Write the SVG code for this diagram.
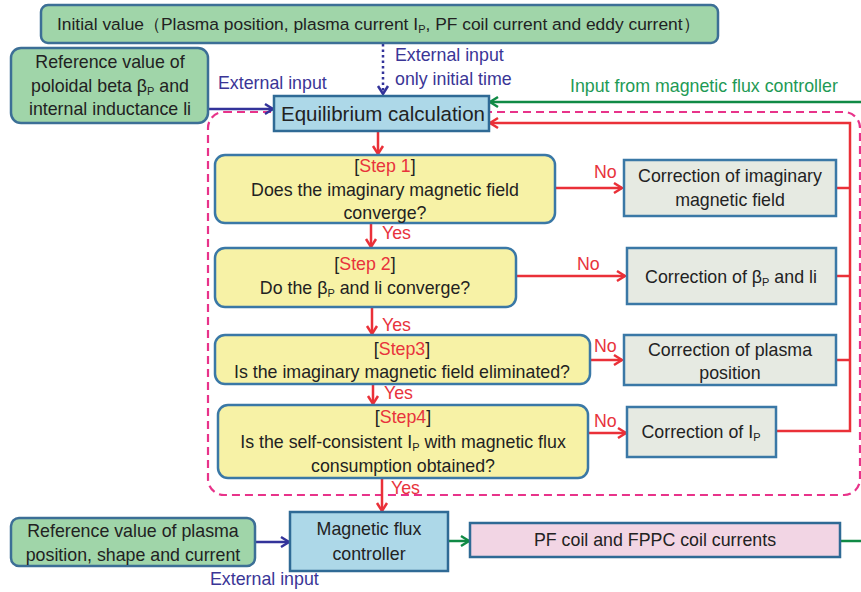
<svg xmlns="http://www.w3.org/2000/svg" width="861" height="592" viewBox="0 0 861 592">
<defs>
<style>
text{font-family:"Liberation Sans",Arial,sans-serif;font-size:17.8px;fill:#222;}
.c{text-anchor:middle;}
.blue{fill:#3a3596;}
.green{fill:#1e9a55;}
.red{fill:#e8333c;}
.sub{font-size:11px;}
.gbox{fill:#a0d5a9;stroke:#3c6f96;stroke-width:2.5;}
.bbox{fill:#add8e8;stroke:#2f6a95;stroke-width:2.5;}
.ybox{fill:#f7f2a6;stroke:#3a78a6;stroke-width:2.5;}
.cbox{fill:#e6eae2;stroke:#3a78a6;stroke-width:2.5;}
.pbox{fill:#f2d5e4;stroke:#2f6a95;stroke-width:2.5;}
.lr{fill:none;stroke:#ea3038;stroke-width:2.5;}
.lb{fill:none;stroke:#33339a;stroke-width:2.5;}
.lg{fill:none;stroke:#108a45;stroke-width:2.5;}
</style>
<marker id="ar" markerUnits="userSpaceOnUse" markerWidth="14" markerHeight="14" refX="11" refY="7" orient="auto"><path d="M3,2 L11,7 L3,12" fill="none" stroke="#ea3038" stroke-width="2.5"/></marker>
<marker id="ab" markerUnits="userSpaceOnUse" markerWidth="14" markerHeight="14" refX="11" refY="7" orient="auto"><path d="M3,2 L11,7 L3,12" fill="none" stroke="#33339a" stroke-width="2.5"/></marker>
<marker id="ag" markerUnits="userSpaceOnUse" markerWidth="14" markerHeight="14" refX="11" refY="7" orient="auto"><path d="M3,2 L11,7 L3,12" fill="none" stroke="#108a45" stroke-width="2.5"/></marker>
</defs>
<rect width="861" height="592" fill="#fff"/>

<g id="loop-region">
<rect x="208" y="112" width="652" height="383" rx="16" fill="none" stroke="#e8338a" stroke-width="2.2" stroke-dasharray="8,5"/>
</g>

<g id="connectors">
<line class="lb" x1="383" y1="44" x2="383" y2="94" stroke-dasharray="2.5,3" marker-end="url(#ab)"/>
<line class="lb" x1="209" y1="109" x2="273" y2="109" marker-end="url(#ab)"/>
<line class="lg" x1="861" y1="102" x2="490" y2="102" marker-end="url(#ag)"/>
<polyline class="lr" points="776,431 850,431 850,123 490,123" marker-end="url(#ar)"/>
<line class="lr" x1="836" y1="188" x2="850" y2="188"/>
<line class="lr" x1="836" y1="276" x2="850" y2="276"/>
<line class="lr" x1="836" y1="360" x2="850" y2="360"/>
<line class="lr" x1="378" y1="132" x2="378" y2="154" marker-end="url(#ar)"/>
<line class="lr" x1="556" y1="188" x2="622" y2="188" marker-end="url(#ar)"/>
<line class="lr" x1="371" y1="224" x2="371" y2="247" marker-end="url(#ar)"/>
<line class="lr" x1="517" y1="276" x2="625" y2="276" marker-end="url(#ar)"/>
<line class="lr" x1="372" y1="308" x2="372" y2="334" marker-end="url(#ar)"/>
<line class="lr" x1="591" y1="360" x2="622" y2="360" marker-end="url(#ar)"/>
<line class="lr" x1="373" y1="385" x2="373" y2="404" marker-end="url(#ar)"/>
<line class="lr" x1="589" y1="433" x2="626" y2="433" marker-end="url(#ar)"/>
<line class="lr" x1="382" y1="479" x2="382" y2="511" marker-end="url(#ar)"/>
<line class="lb" x1="256" y1="542" x2="289" y2="542" marker-end="url(#ab)"/>
<line class="lg" x1="449" y1="541" x2="469" y2="541" marker-end="url(#ag)"/>
<line class="lg" x1="841" y1="541" x2="861" y2="541"/>
</g>

<g id="connector-labels">
<text x="395" y="61" class="blue">External input</text>
<text x="395" y="85" class="blue">only initial time</text>
<text x="218" y="89" class="blue">External input</text>
<text x="570" y="92" class="green">Input from magnetic flux controller</text>
<text x="594" y="178" class="red">No</text>
<text x="382" y="239" class="red">Yes</text>
<text x="577" y="270" class="red">No</text>
<text x="382" y="331" class="red">Yes</text>
<text x="594" y="352" class="red">No</text>
<text x="384" y="399" class="red">Yes</text>
<text x="594" y="427" class="red">No</text>
<text x="391" y="494" class="red">Yes</text>
<text x="210" y="585" class="blue">External input</text>
</g>

<g id="initial-value">
<rect class="gbox" x="41" y="5" width="677" height="38" rx="7"/>
<text x="57" y="30" style="font-size:17.4px">Initial value（Plasma position, plasma current I<tspan class="sub" dy="3">P</tspan><tspan dy="-3">, PF coil current and eddy current）</tspan></text>
</g>

<g id="reference-beta">
<rect class="gbox" x="11" y="48" width="197" height="75" rx="10"/>
<text x="110" y="68" class="c">Reference  value of</text>
<text x="110" y="92" class="c">poloidal beta β<tspan class="sub" dy="3">P</tspan><tspan dy="-3"> and</tspan></text>
<text x="110" y="115" class="c">internal inductance li</text>
</g>

<g id="equilibrium">
<rect class="bbox" x="274" y="96" width="215" height="35"/>
<text x="383" y="121" class="c" style="font-size:20.5px">Equilibrium calculation</text>
</g>

<g id="step1">
<rect class="ybox" x="215" y="155" width="340" height="68" rx="10"/>
<text x="385" y="172" class="c">[<tspan class="red">Step 1</tspan>]</text>
<text x="385" y="196" class="c">Does the imaginary magnetic field</text>
<text x="385" y="219" class="c">converge?</text>
</g>

<g id="correction1">
<rect class="cbox" x="624" y="160" width="212" height="56"/>
<text x="730" y="182" class="c">Correction of imaginary</text>
<text x="730" y="206" class="c">magnetic field</text>
</g>

<g id="step2">
<rect class="ybox" x="215" y="248" width="301" height="59" rx="10"/>
<text x="365" y="270" class="c">[<tspan class="red">Step 2</tspan>]</text>
<text x="365" y="294" class="c">Do the β<tspan class="sub" dy="3">P</tspan><tspan dy="-3"> and li converge?</tspan></text>
</g>

<g id="correction2">
<rect class="cbox" x="627" y="248" width="209" height="56"/>
<text x="731" y="283" class="c">Correction of β<tspan class="sub" dy="3">P</tspan><tspan dy="-3"> and li</tspan></text>
</g>

<g id="step3">
<rect class="ybox" x="215" y="335" width="375" height="49" rx="10"/>
<text x="402" y="355" class="c">[<tspan class="red">Step3</tspan>]</text>
<text x="402" y="378" class="c">Is the imaginary magnetic field eliminated?</text>
</g>

<g id="correction3">
<rect class="cbox" x="624" y="335" width="212" height="50"/>
<text x="730" y="356" class="c">Correction of plasma</text>
<text x="730" y="379" class="c">position</text>
</g>

<g id="step4">
<rect class="ybox" x="218" y="405" width="370" height="73" rx="10"/>
<text x="403" y="423" class="c">[<tspan class="red">Step4</tspan>]</text>
<text x="403" y="448" class="c">Is the self-consistent I<tspan class="sub" dy="3">P</tspan><tspan dy="-3"> with magnetic flux</tspan></text>
<text x="403" y="472" class="c">consumption obtained?</text>
</g>

<g id="correction4">
<rect class="cbox" x="627" y="407" width="149" height="50"/>
<text x="701" y="438" class="c">Correction of I<tspan class="sub" dy="3">P</tspan></text>
</g>

<g id="reference-plasma">
<rect class="gbox" x="11" y="518" width="244" height="48" rx="8"/>
<text x="133" y="537" class="c">Reference  value of plasma</text>
<text x="133" y="561" class="c">position, shape and current</text>
</g>

<g id="flux-controller">
<rect class="bbox" x="290" y="512" width="158" height="59"/>
<text x="369" y="535" class="c">Magnetic flux</text>
<text x="369" y="560" class="c">controller</text>
</g>

<g id="coil-currents">
<rect class="pbox" x="470" y="523" width="370" height="34"/>
<text x="655" y="546" class="c">PF coil and FPPC coil currents</text>
</g>
</svg>
